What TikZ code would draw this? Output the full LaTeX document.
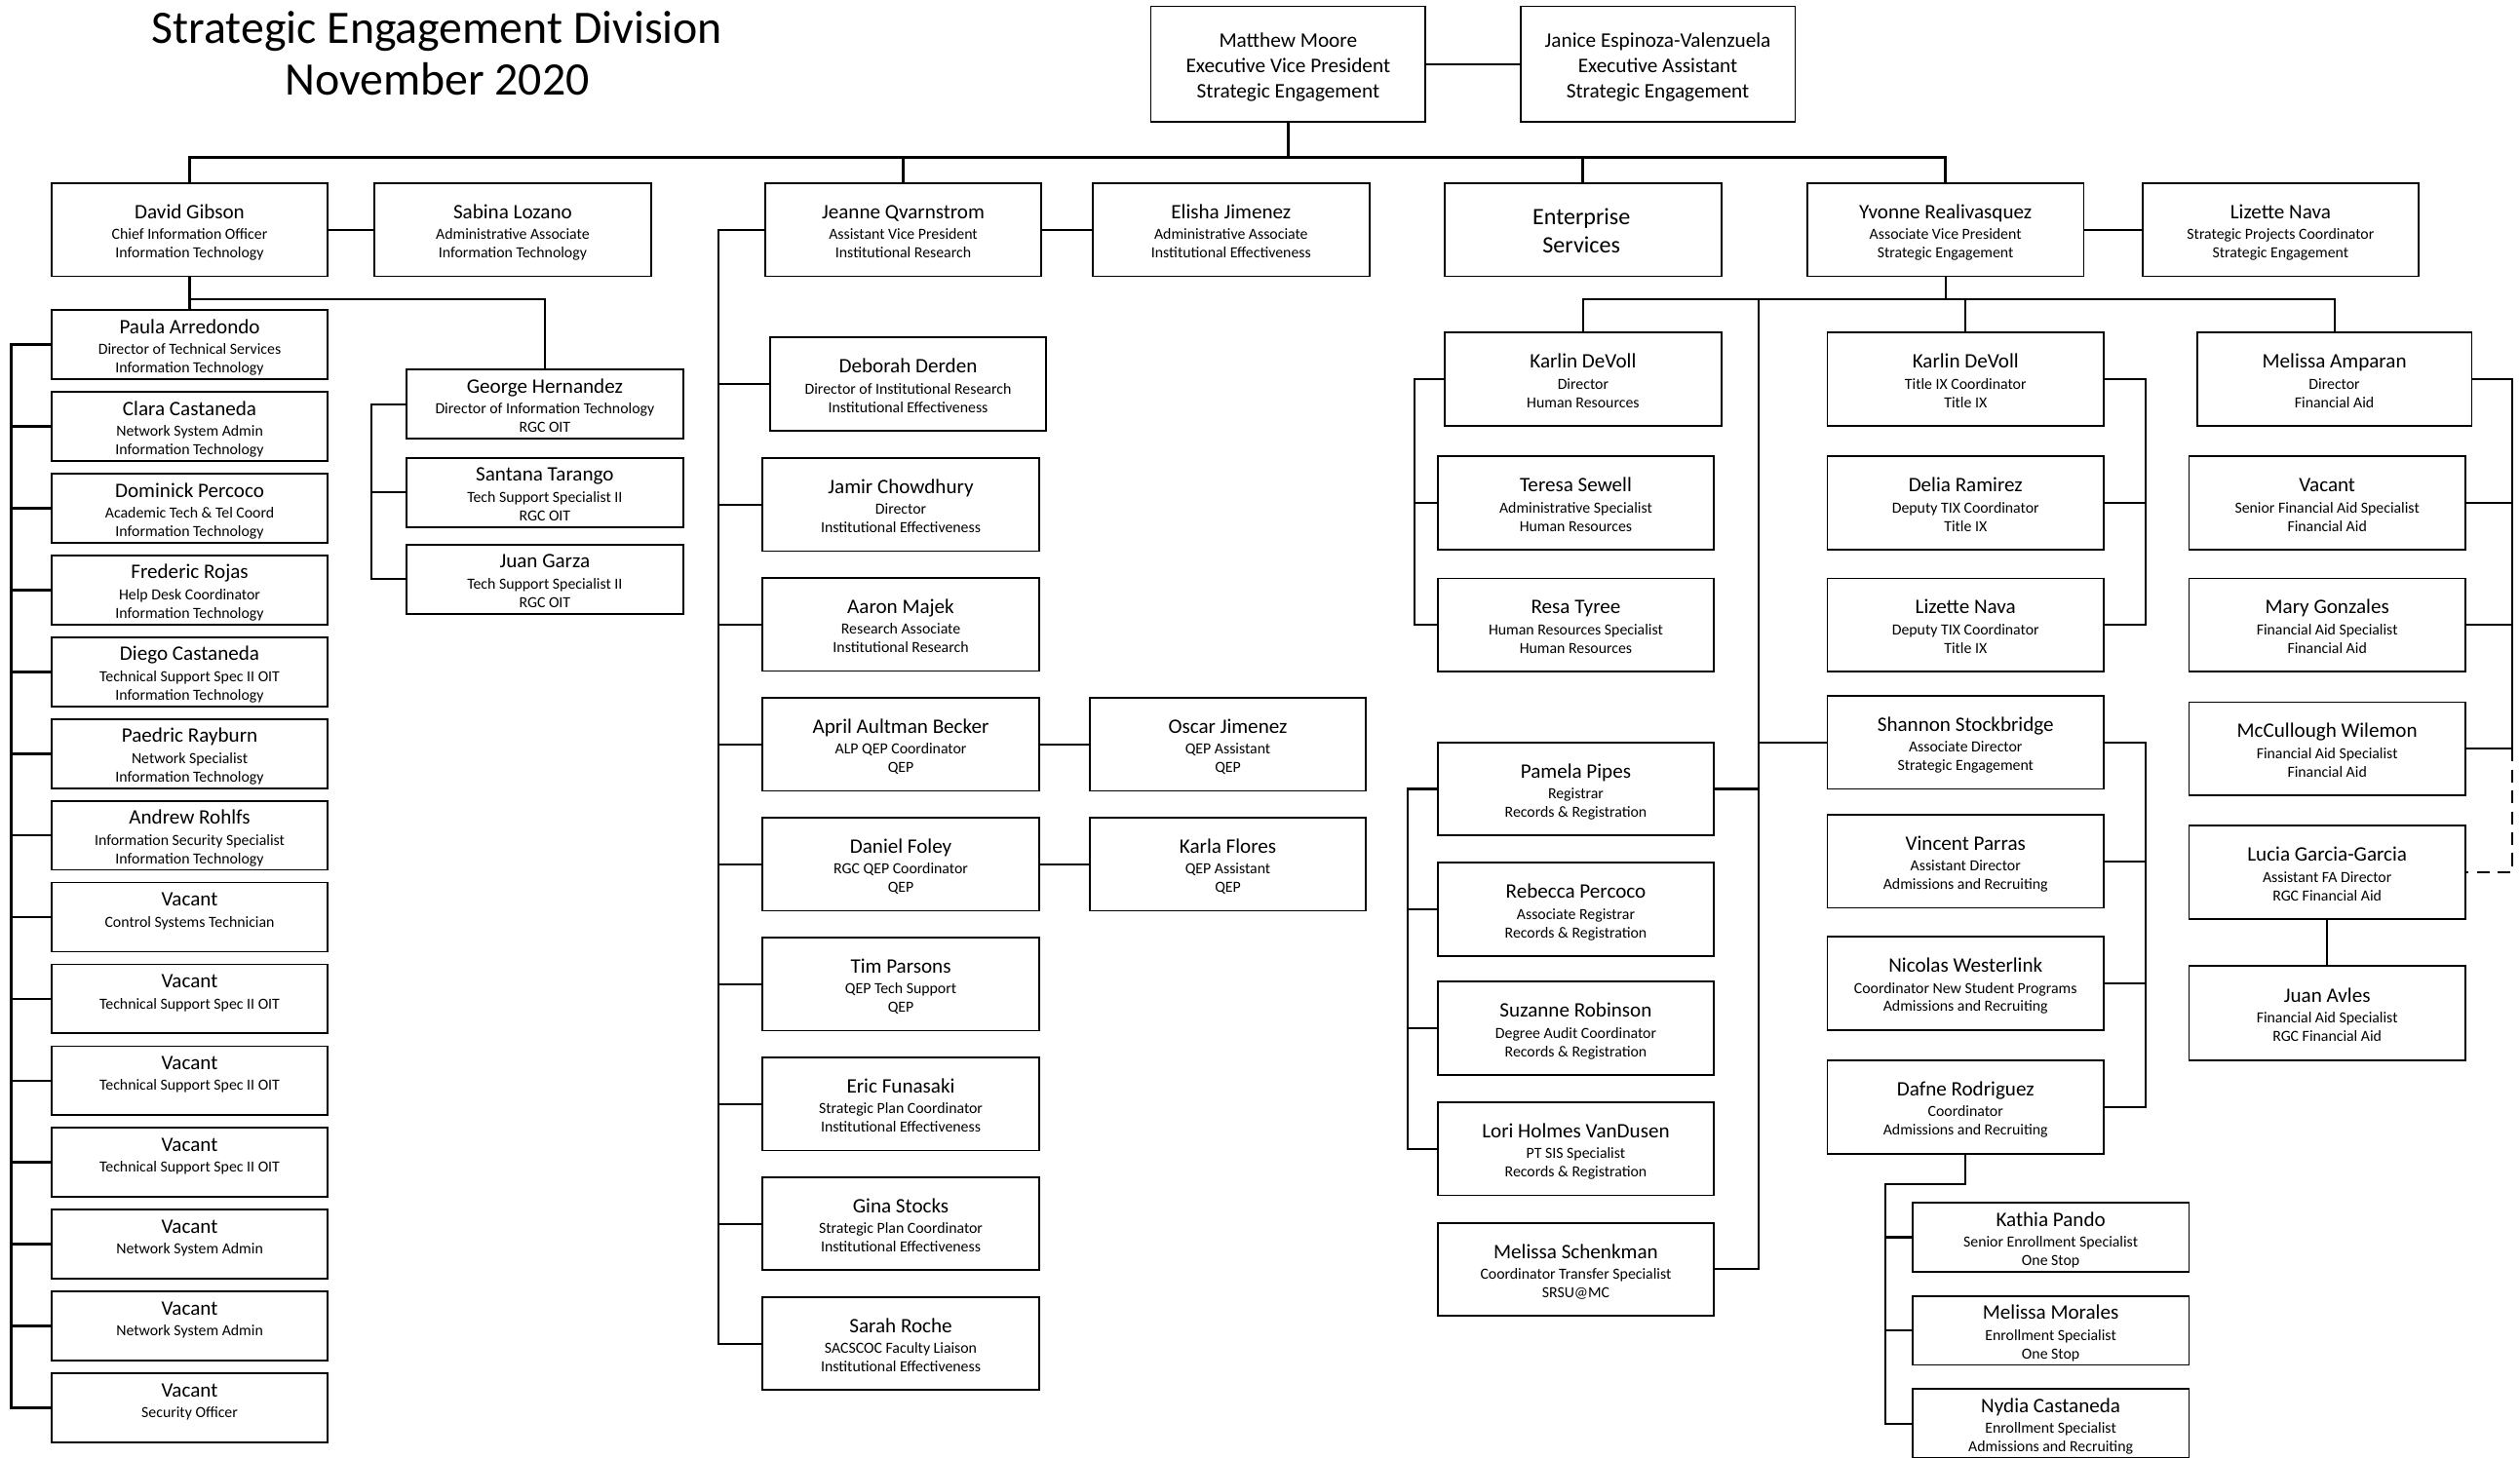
\documentclass[tikz,border=0pt]{standalone}
\usepackage{fontspec}
\setmainfont{Carlito}
\usetikzlibrary{calc}
\tikzset{
  pbox/.style={draw, line width=1.1pt, minimum width=172pt, minimum height=58pt, inner sep=0pt, fill=white},
  spbox/.style={pbox, minimum height=43pt},
  nm/.style={font=\fontsize{12.8}{14}\selectfont, inner sep=0pt, text height=8.2pt, text depth=0pt},
  dt/.style={font=\fontsize{9.6}{11}\selectfont, inner sep=0pt, text height=6.2pt, text depth=0pt},
  tp/.style={font=\fontsize{12.9}{14}\selectfont, inner sep=0pt, text height=8.3pt, text depth=0pt},
  es/.style={font=\fontsize{14.6}{16}\selectfont, inner sep=0pt, text height=9.4pt, text depth=0pt},
  ttl/.style={font=\fontsize{29}{32}\selectfont, inner sep=0pt, text height=18.7pt, text depth=0pt},
  ln/.style={line width=1.3pt},
  topline/.style={line width=1.7pt},
  leftline/.style={line width=1.6pt},
}
\newcommand\pers[7][pbox]{%
  \node[#1] (#2) at (#3,#4) {};
  \node[nm] (#2-a) at ($(#2.center)+(0,-11)$) {#5};
  \node[dt] (#2-b) at ($(#2.center)+(0,3)$) {#6};
  \node[dt] (#2-c) at ($(#2.center)+(0,14.5)$) {#7};
}
\begin{document}
\begin{tikzpicture}[x=1pt,y=-1pt]
\fill[white] (0,0) rectangle (1568,907);
\useasboundingbox (0,0) rectangle (1568,907);

% Title
\node[ttl] (title1) at (272,17.5) {Strategic Engagement Division};
\node[ttl] (title2) at (272,50) {November 2020};

% Top boxes
\node[pbox, minimum width=171pt, minimum height=72pt] (moore) at (801.5,40) {};
\node[tp] (moore-a) at (801.5,25) {Matthew Moore};
\node[tp] (moore-b) at (801.5,41) {Executive Vice President};
\node[tp] (moore-c) at (801.5,57) {Strategic Engagement};
\node[pbox, minimum width=171pt, minimum height=72pt] (janice) at (1031.5,40) {};
\node[tp] (janice-a) at (1031.5,25) {Janice Espinoza-Valenzuela};
\node[tp] (janice-b) at (1031.5,41) {Executive Assistant};
\node[tp] (janice-c) at (1031.5,57) {Strategic Engagement};

% Row 2
\pers{gibson}{118}{143}{David Gibson}{Chief Information Officer}{Information Technology}
\pers{lozano}{319}{143}{Sabina Lozano}{Administrative Associate}{Information Technology}
\pers{qvarn}{562}{143}{Jeanne Qvarnstrom}{Assistant Vice President}{Institutional Research}
\pers{ejim}{766}{143}{Elisha Jimenez}{Administrative Associate}{Institutional Effectiveness}
\node[pbox] (enterprise) at (985,143) {};
\node[es] (enterprise-a) at (984,135) {Enterprise};
\node[es] (enterprise-b) at (984,153) {Services};
\pers{yvonne}{1210.5}{143}{Yvonne Realivasquez}{Associate Vice President}{Strategic Engagement}
\pers{lnava}{1419}{143}{Lizette Nava}{Strategic Projects Coordinator}{Strategic Engagement}

% IT column
\pers[spbox]{paula}{118}{214.5}{Paula Arredondo}{Director of Technical Services}{Information Technology}
\pers[spbox]{clara}{118}{265.4}{Clara Castaneda}{Network System Admin}{Information Technology}
\pers[spbox]{dominick}{118}{316.3}{Dominick Percoco}{Academic Tech \& Tel Coord}{Information Technology}
\pers[spbox]{frederic}{118}{367.2}{Frederic Rojas}{Help Desk Coordinator}{Information Technology}
\pers[spbox]{diego}{118}{418.1}{Diego Castaneda}{Technical Support Spec II OIT}{Information Technology}
\pers[spbox]{paedric}{118}{469.0}{Paedric Rayburn}{Network Specialist}{Information Technology}
\pers[spbox]{andrew}{118}{519.9}{Andrew Rohlfs}{Information Security Specialist}{Information Technology}
\pers[spbox]{vaca}{118}{570.8}{Vacant}{Control Systems Technician}{}
\pers[spbox]{vacb}{118}{621.7}{Vacant}{Technical Support Spec II OIT}{}
\pers[spbox]{vacc}{118}{672.6}{Vacant}{Technical Support Spec II OIT}{}
\pers[spbox]{vacd}{118}{723.5}{Vacant}{Technical Support Spec II OIT}{}
\pers[spbox]{vace}{118}{774.4}{Vacant}{Network System Admin}{}
\pers[spbox]{vacf}{118}{825.3}{Vacant}{Network System Admin}{}
\pers[spbox]{vacg}{118}{876.2}{Vacant}{Security Officer}{}

% RGC OIT
\pers[spbox]{george}{339}{251.5}{George Hernandez}{Director of Information Technology}{RGC OIT}
\pers[spbox]{santana}{339}{306.5}{Santana Tarango}{Tech Support Specialist II}{RGC OIT}
\pers[spbox]{jgarza}{339}{360.5}{Juan Garza}{Tech Support Specialist II}{RGC OIT}

% Institutional research / effectiveness
\pers{deborah}{565}{239}{Deborah Derden}{Director of Institutional Research}{Institutional Effectiveness}
\pers{jamir}{560.5}{314}{Jamir Chowdhury}{Director}{Institutional Effectiveness}
\pers{aaron}{560.5}{388.6}{Aaron Majek}{Research Associate}{Institutional Research}
\pers{april}{560.5}{463.2}{April Aultman Becker}{ALP QEP Coordinator}{QEP}
\pers{foley}{560.5}{537.8}{Daniel Foley}{RGC QEP Coordinator}{QEP}
\pers{tim}{560.5}{612.4}{Tim Parsons}{QEP Tech Support}{QEP}
\pers{eric}{560.5}{687}{Eric Funasaki}{Strategic Plan Coordinator}{Institutional Effectiveness}
\pers{gina}{560.5}{761.6}{Gina Stocks}{Strategic Plan Coordinator}{Institutional Effectiveness}
\pers{sarah}{560.5}{836.2}{Sarah Roche}{SACSCOC Faculty Liaison}{Institutional Effectiveness}
\pers{oscar}{764}{463.2}{Oscar Jimenez}{QEP Assistant}{QEP}
\pers{karla}{764}{537.8}{Karla Flores}{QEP Assistant}{QEP}

% HR
\pers{karlinhr}{985}{236}{Karlin DeVoll}{Director}{Human Resources}
\pers{teresa}{980.5}{313}{Teresa Sewell}{Administrative Specialist}{Human Resources}
\pers{resa}{980.5}{389}{Resa Tyree}{Human Resources Specialist}{Human Resources}

% Records
\pers{pamela}{980.5}{491}{Pamela Pipes}{Registrar}{Records \& Registration}
\pers{rebecca}{980.5}{566}{Rebecca Percoco}{Associate Registrar}{Records \& Registration}
\pers{suzanne}{980.5}{640}{Suzanne Robinson}{Degree Audit Coordinator}{Records \& Registration}
\pers{lori}{980.5}{715}{Lori Holmes VanDusen}{PT SIS Specialist}{Records \& Registration}
\pers{schenk}{980.5}{790}{Melissa Schenkman}{Coordinator Transfer Specialist}{SRSU@MC}

% Title IX
\pers{karlintix}{1223}{236}{Karlin DeVoll}{Title IX Coordinator}{Title IX}
\pers{delia}{1223}{313}{Delia Ramirez}{Deputy TIX Coordinator}{Title IX}
\pers{lnavab}{1223}{389}{Lizette Nava}{Deputy TIX Coordinator}{Title IX}

% Admissions
\pers{shannon}{1223}{462}{Shannon Stockbridge}{Associate Director}{Strategic Engagement}
\pers{vincent}{1223}{536}{Vincent Parras}{Assistant Director}{Admissions and Recruiting}
\pers{nicolas}{1223}{612}{Nicolas Westerlink}{Coordinator New Student Programs}{Admissions and Recruiting}
\pers{dafne}{1223}{689}{Dafne Rodriguez}{Coordinator}{Admissions and Recruiting}
\pers[spbox]{kathia}{1276}{770}{Kathia Pando}{Senior Enrollment Specialist}{One Stop}
\pers[spbox]{morales}{1276}{828}{Melissa Morales}{Enrollment Specialist}{One Stop}
\pers[spbox]{nydia}{1276}{886}{Nydia Castaneda}{Enrollment Specialist}{Admissions and Recruiting}

% Financial aid
\pers[pbox, minimum width=171pt]{amparan}{1452.5}{236}{Melissa Amparan}{Director}{Financial Aid}
\pers{vacfa}{1448}{313}{Vacant}{Senior Financial Aid Specialist}{Financial Aid}
\pers{mary}{1448}{389}{Mary Gonzales}{Financial Aid Specialist}{Financial Aid}
\pers{mccul}{1448}{466}{McCullough Wilemon}{Financial Aid Specialist}{Financial Aid}
\pers{lucia}{1448}{543}{Lucia Garcia-Garcia}{Assistant FA Director}{RGC Financial Aid}
\pers[pbox, minimum height=59pt]{avles}{1448}{630.5}{Juan Avles}{Financial Aid Specialist}{RGC Financial Aid}

% ---------- connectors ----------
\coordinate (topbus) at (801.5,98);
\draw[topline] (moore.east) -- (janice.west);
\draw[topline] (moore.south) -- (topbus);
\draw[topline] (gibson.north) |- (topbus) -| (yvonne.north);
\draw[topline] (qvarn.north) -- (qvarn.north |- topbus);
\draw[topline] (enterprise.north) -- (enterprise.north |- topbus);

\draw[ln] (gibson.east) -- (lozano.west);
\draw[ln] (qvarn.east) -- (ejim.west);
\draw[ln] (yvonne.east) -- (lnava.west);

% IT
\coordinate (gbus) at (118,186);
\draw[ln] (gibson.south) -- (paula.north);
\draw[ln] (gbus) -| (george.north);
\coordinate (lb) at (7,0);
\draw[leftline] (paula.west) -- (paula.west -| lb) -- (vacg.west -| lb) -- (vacg.west);
\foreach \n in {clara,dominick,frederic,diego,paedric,andrew,vaca,vacb,vacc,vacd,vace,vacf}
  \draw[leftline] (\n.west -| lb) -- (\n.west);
\coordinate (gb) at (231,0);
\draw[ln] (george.west) -- (george.west -| gb) -- (jgarza.west -| gb) -- (jgarza.west);
\draw[ln] (santana.west -| gb) -- (santana.west);

% Jeanne
\coordinate (jb) at (447,0);
\draw[ln] (qvarn.west) -- (qvarn.west -| jb) -- (sarah.west -| jb) -- (sarah.west);
\foreach \n in {deborah,jamir,aaron,april,foley,tim,eric,gina}
  \draw[ln] (\n.west -| jb) -- (\n.west);
\draw[ln] (april.east) -- (oscar.west);
\draw[ln] (foley.east) -- (karla.west);

% Yvonne
\coordinate (yb) at (1210.5,186);
\draw[ln] (yvonne.south) -- (yb);
\draw[ln] (karlinhr.north) |- (yb) -| (amparan.north);
\draw[ln] (karlintix.north) -- (karlintix.north |- yb);
\coordinate (bv) at (1094,186);
\draw[ln] (bv) -- (schenk.east -| bv) -- (schenk.east);
\draw[ln] (pamela.east) -- (pamela.east -| bv);
\draw[ln] (shannon.west -| bv) -- (shannon.west);

% HR
\coordinate (hb) at (880,0);
\draw[ln] (karlinhr.west) -- (karlinhr.west -| hb) -- (resa.west -| hb) -- (resa.west);
\draw[ln] (teresa.west -| hb) -- (teresa.west);

% Records
\coordinate (rb) at (876,0);
\draw[ln] (pamela.west) -- (pamela.west -| rb) -- (lori.west -| rb) -- (lori.west);
\draw[ln] (rebecca.west -| rb) -- (rebecca.west);
\draw[ln] (suzanne.west -| rb) -- (suzanne.west);

% Title IX
\coordinate (tb) at (1335,0);
\draw[ln] (karlintix.east) -- (karlintix.east -| tb) -- (lnavab.east -| tb) -- (lnavab.east);
\draw[ln] (delia.east) -- (delia.east -| tb);

% Shannon
\draw[ln] (shannon.east) -- (shannon.east -| tb) -- (dafne.east -| tb) -- (dafne.east);
\draw[ln] (vincent.east) -- (vincent.east -| tb);
\draw[ln] (nicolas.east) -- (nicolas.east -| tb);

% Dafne
\coordinate (kb) at (1173,737);
\draw[ln] (dafne.south) |- (kb) -- (kb |- nydia.west) -- (nydia.west);
\draw[ln] (kathia.west -| kb) -- (kathia.west);
\draw[ln] (morales.west -| kb) -- (morales.west);

% Financial aid
\coordinate (fb) at (1563,0);
\draw[ln] (amparan.east) -- (amparan.east -| fb) -- (mccul.east -| fb) -- (mccul.east);
\draw[ln] (vacfa.east) -- (vacfa.east -| fb);
\draw[ln] (mary.east) -- (mary.east -| fb);
\draw[ln, dash pattern=on 8pt off 5pt] (mccul.east -| fb) -- (lucia.east -| fb) -- (lucia.east);
\draw[ln] (lucia.south) -- (avles.north);
\end{tikzpicture}
\end{document}
